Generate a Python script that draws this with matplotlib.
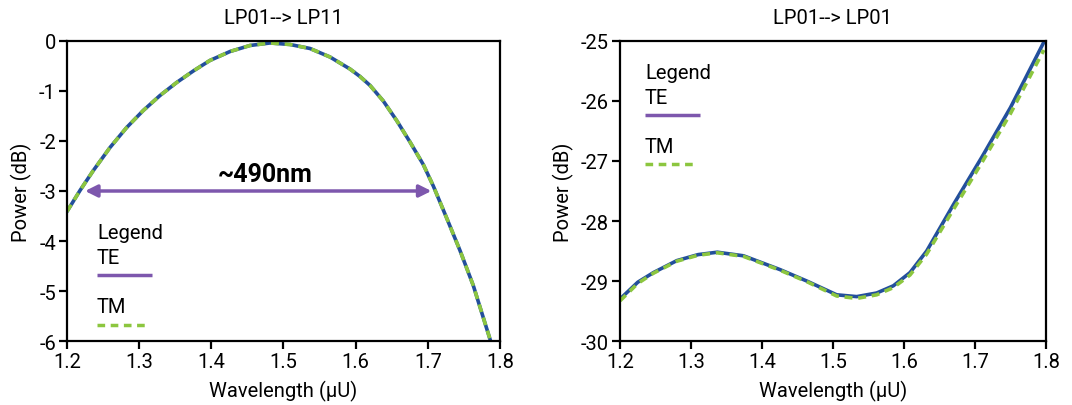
import matplotlib
matplotlib.use("Agg")
import matplotlib.pyplot as plt

plt.rcParams['font.family'] = ['Roboto', 'DejaVu Sans']

# ---- data: LP01 --> LP11 ----
wl_11 = [1.200, 1.218, 1.2365, 1.2596, 1.2827, 1.3057, 1.3289, 1.352, 1.375, 1.398,
         1.426, 1.4536, 1.4813, 1.509, 1.5367, 1.5644, 1.5921, 1.606, 1.620, 1.6383, 1.6568,
         1.6753, 1.6937, 1.7076, 1.7261, 1.7446, 1.763, 1.7861]
te_11 = [-3.41, -2.99, -2.59, -2.13, -1.73, -1.39, -1.09, -0.83, -0.60, -0.39,
         -0.21, -0.09, -0.04, -0.07, -0.15, -0.32, -0.56, -0.71, -0.89, -1.20, -1.59,
         -2.02, -2.47, -2.90, -3.54, -4.19, -4.89, -5.96]
tm_11 = [-3.41, -2.99, -2.59, -2.13, -1.73, -1.39, -1.09, -0.83, -0.60, -0.39,
         -0.21, -0.09, -0.04, -0.07, -0.15, -0.32, -0.56, -0.71, -0.89, -1.20, -1.59,
         -2.02, -2.47, -2.90, -3.54, -4.19, -4.89, -5.96]

# ---- data: LP01 --> LP01 ----
wl_01 = [1.200, 1.225, 1.247, 1.280, 1.310, 1.337, 1.374, 1.4254, 1.463, 1.5052,
         1.5334, 1.5615, 1.585, 1.6085, 1.632, 1.670, 1.710, 1.750, 1.797]
te_01 = [-29.30, -29.02, -28.86, -28.66, -28.56, -28.52, -28.58, -28.81, -29.00, -29.23,
         -29.26, -29.20, -29.08, -28.86, -28.50, -27.72, -26.93, -26.11, -25.02]
tm_01 = [-29.33, -29.04, -28.87, -28.67, -28.57, -28.53, -28.59, -28.82, -29.01, -29.25,
         -29.29, -29.23, -29.11, -28.90, -28.55, -27.80, -27.02, -26.21, -25.15]

xticks = [1.2, 1.3, 1.4, 1.5, 1.6, 1.7, 1.8]
yticks_11 = [0, -1, -2, -3, -4, -5, -6]
yticks_01 = [-25, -26, -27, -28, -29, -30]

TE_COLOR = '#234f9c'
TM_COLOR = '#8cc63f'
PURPLE = '#7d57ad'

fig = plt.figure(figsize=(10.72, 4.06), dpi=100)
ax1 = fig.add_axes([0.0625, 0.1576, 0.4039, 0.7390])
ax2 = fig.add_axes([0.5784, 0.1576, 0.3973, 0.7390])

FS = 14.5

def style(ax, yticks, ylim):
    ax.set_xlim(1.2, 1.8)
    ax.set_ylim(*ylim)
    ax.set_xticks(xticks)
    ax.set_xticklabels([f"{t:.1f}" for t in xticks])
    ax.set_yticks(yticks)
    ax.set_yticklabels([str(t) for t in yticks])
    for s in ax.spines.values():
        s.set_linewidth(1.6)
        s.set_color('black')
    ax.tick_params(direction='out', length=6, width=1.6, labelsize=FS, pad=2)
    ax.set_xlabel('Wavelength (\u03bcU)', fontsize=FS, labelpad=6)
    ax.set_ylabel('Power (dB)', fontsize=FS, labelpad=5)

def legend(ax, y_leg, y_te, y_tel, y_tm, y_tml, x0, x1, x2):
    ax.text(x0, y_leg, 'Legend', transform=ax.transAxes, fontsize=FS, va='center', ha='left')
    ax.text(x0, y_te, 'TE', transform=ax.transAxes, fontsize=FS, va='center', ha='left')
    ax.plot([x0, x1], [y_tel, y_tel], transform=ax.transAxes, color=PURPLE, lw=2.5, solid_capstyle='butt')
    ax.text(x0, y_tm, 'TM', transform=ax.transAxes, fontsize=FS, va='center', ha='left')
    ax.plot([x0, x2], [y_tml, y_tml], transform=ax.transAxes, color=TM_COLOR, lw=2.5,
            dashes=(2.2, 1.6), dash_capstyle='butt')

# left panel
ax1.plot(wl_11, te_11, color=TE_COLOR, lw=2.6)
ax1.plot(wl_11, tm_11, color=TM_COLOR, lw=2.6, dashes=(2.2, 1.6))
style(ax1, yticks_11, (-6, 0))
ax1.set_title('LP01--> LP11', fontsize=FS, pad=13)
ax1.annotate('', xy=(1.225, -3.0), xytext=(1.705, -3.0),
             arrowprops=dict(arrowstyle='<|-|>', color=PURPLE, lw=2.5,
                             mutation_scale=18, shrinkA=0, shrinkB=0))
ax1.text(1.474, -2.66, '~490nm', fontsize=18, fontweight='bold', ha='center', va='center')
legend(ax1, 1 - 191/300, 1 - 216/300, 1 - 233.5/300, 1 - 265/300, 1 - 283.5/300,
       30/433, 85/433, 80/433)

# right panel
ax2.plot(wl_01, te_01, color=TE_COLOR, lw=2.6)
ax2.plot(wl_01, tm_01, color=TM_COLOR, lw=2.6, dashes=(2.2, 1.6))
style(ax2, yticks_01, (-30, -25))
ax2.set_title('LP01--> LP01', fontsize=FS, pad=13)
legend(ax2, 1 - 32/300, 1 - 57/300, 1 - 74.5/300, 1 - 106/300, 1 - 123/300,
       25/426, 80/426, 75/426)

fig.savefig('out.png', dpi=100)
